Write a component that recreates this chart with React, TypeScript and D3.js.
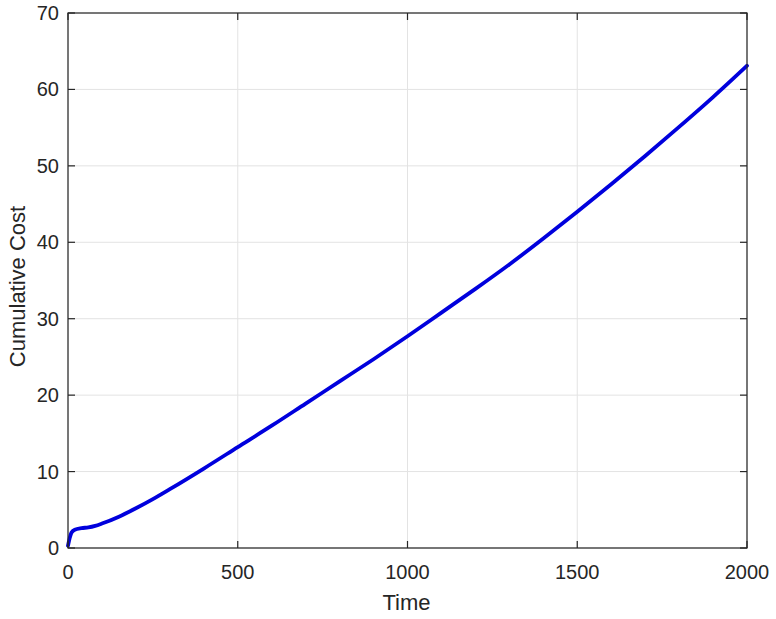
import React from "react";
import * as d3 from "d3";

const times = [0, 5, 10, 20, 40, 60, 80, 100, 150, 200, 250, 300, 400, 500, 600, 700, 800, 900, 1000, 1100, 1200, 1300, 1400, 1500, 1600, 1700, 1800, 1900, 2000];
const costs = [0.3, 1.3, 2.0, 2.4, 2.6, 2.7, 2.9, 3.2, 4.1, 5.2, 6.4, 7.7, 10.4, 13.2, 16.0, 18.9, 21.8, 24.7, 27.7, 30.8, 33.9, 37.1, 40.5, 44.0, 47.6, 51.3, 55.1, 59.0, 63.1];
const xTicks = [0, 500, 1000, 1500, 2000];
const yTicks = [0, 10, 20, 30, 40, 50, 60, 70];
const xLabel = "Time";
const yLabel = "Cumulative Cost";

export default function App() {
  const W = 776, H = 619;
  const L = 68, R = 747, T = 13, B = 548;
  const x = d3.scaleLinear().domain([0, 2000]).range([L, R]);
  const y = d3.scaleLinear().domain([0, 70]).range([B, T]);
  const data = times.map((t, i) => [t, costs[i]] as [number, number]);
  const line = d3.line<[number, number]>().x(d => x(d[0])).y(d => y(d[1])).curve(d3.curveMonotoneX);
  const font = "'Liberation Sans', Arial, Helvetica, sans-serif";
  const txt = "#262626";
  const tk = 7;
  return (
    <svg width={W} height={H} style={{ position: "absolute", left: 0, top: 0, background: "#fff" }} fontFamily={font}>
      <rect x={0} y={0} width={W} height={H} fill="#fff" />
      {xTicks.map(t => (
        <line key={"gx" + t} x1={x(t)} x2={x(t)} y1={T} y2={B} stroke="#e3e3e3" strokeWidth={1} />
      ))}
      {yTicks.map(t => (
        <line key={"gy" + t} x1={L} x2={R} y1={y(t)} y2={y(t)} stroke="#e3e3e3" strokeWidth={1} />
      ))}
      <path d={line(data) || ""} fill="none" stroke="#0000dd" strokeWidth={3.8} strokeLinejoin="round" strokeLinecap="round" />
      <rect x={L} y={T} width={R - L} height={B - T} fill="none" stroke={txt} strokeWidth={1.2} />
      {xTicks.map(t => (
        <g key={"tx" + t}>
          <line x1={x(t)} x2={x(t)} y1={B} y2={B - tk} stroke={txt} strokeWidth={1.2} />
          <line x1={x(t)} x2={x(t)} y1={T} y2={T + tk} stroke={txt} strokeWidth={1.2} />
          <text x={x(t)} y={579} textAnchor="middle" fontSize={20} fill={txt}>{t}</text>
        </g>
      ))}
      {yTicks.map(t => (
        <g key={"ty" + t}>
          <line x1={L} x2={L + tk} y1={y(t)} y2={y(t)} stroke={txt} strokeWidth={1.2} />
          <line x1={R} x2={R - tk} y1={y(t)} y2={y(t)} stroke={txt} strokeWidth={1.2} />
          <text x={59} y={y(t) + 7} textAnchor="end" fontSize={20} fill={txt}>{t}</text>
        </g>
      ))}
      <text x={x(1000) - 1} y={610} textAnchor="middle" fontSize={22} fill={txt}>{xLabel}</text>
      <text transform={`translate(25, ${(T + B) / 2 + 6}) rotate(-90)`} textAnchor="middle" fontSize={22} fill={txt}>{yLabel}</text>
    </svg>
  );
}
